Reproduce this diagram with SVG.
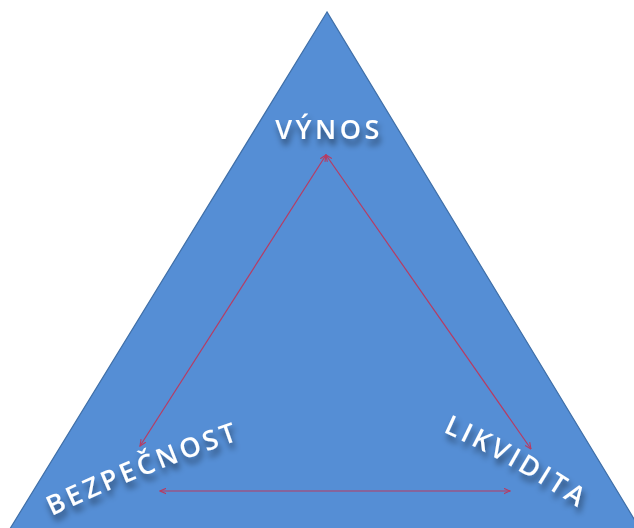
<svg xmlns="http://www.w3.org/2000/svg" width="634" height="528" viewBox="0 0 634 528">
  <defs>
    <filter id="shadow" x="-20%" y="-40%" width="140%" height="200%">
      <feGaussianBlur in="SourceAlpha" stdDeviation="3" result="b"/>
      <feOffset in="b" dx="2" dy="6" result="o"/>
      <feComponentTransfer in="o" result="s">
        <feFuncA type="linear" slope="0.5"/>
      </feComponentTransfer>
      <feMerge>
        <feMergeNode in="s"/>
        <feMergeNode in="SourceGraphic"/>
      </feMerge>
    </filter>
    <marker id="head" viewBox="0 0 10 10" refX="9" refY="5" markerWidth="7" markerHeight="7" orient="auto-start-reverse" markerUnits="userSpaceOnUse">
      <path d="M0,1 L9,5 L0,9" fill="none" stroke="#B83B62" stroke-width="1.6"/>
    </marker>
    <path id="arcLeft" d="M 52 516 Q 140 474 250 436"/>
    <path id="arcRight" d="M 443 432 Q 520 466 610 530"/>
    <style>
      .lbl { font-family: "Open Sans", "Liberation Sans", sans-serif; font-weight: 600; font-size: 27px; fill: #FFFFFF; letter-spacing: 3.5px; }
      .link { stroke: #B83B62; stroke-width: 1.2; fill: none; marker-start: url(#head); marker-end: url(#head); }
    </style>
  </defs>

  <rect width="634" height="528" fill="#FFFFFF"/>

  <g id="triangle">
    <polygon points="327,12 8,532 642,532" fill="#558ED5" stroke="#3F6FA8" stroke-width="1.2"/>
  </g>

  <g id="connectors">
    <line class="link" x1="326" y1="155" x2="140" y2="446"/>
    <line class="link" x1="326" y1="155" x2="531" y2="449"/>
    <line class="link" x1="160" y1="491" x2="510" y2="491"/>
  </g>

  <g id="vynos" filter="url(#shadow)">
    <text class="lbl" x="329" y="139" text-anchor="middle">VÝNOS</text>
  </g>

  <g id="bezpecnost" filter="url(#shadow)">
    <text class="lbl"><textPath href="#arcLeft">BEZPEČNOST</textPath></text>
  </g>

  <g id="likvidita" filter="url(#shadow)">
    <text class="lbl"><textPath href="#arcRight">LIKVIDITA</textPath></text>
  </g>
</svg>
